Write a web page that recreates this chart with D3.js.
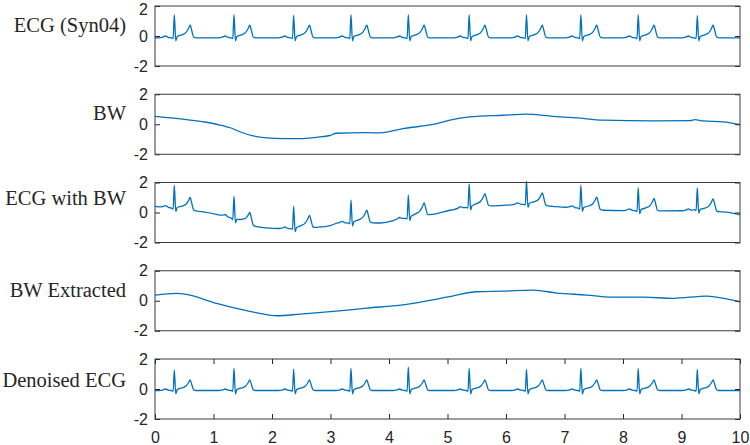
<!DOCTYPE html>
<html>
<head>
<meta charset="utf-8">
<script src="https://cdn.jsdelivr.net/npm/d3@7"></script>
<style>
  body { margin: 0; background: #fff; }
  svg { display: block; }
  .tick text { font-family: "Liberation Sans", Arial, sans-serif; font-size: 16px; fill: #262626; }
  .tick line { stroke: #262626; }
  .panel-label { font-family: "Liberation Serif", "Times New Roman", serif; font-size: 20.5px; fill: #262626; }
</style>
</head>
<body>
<div id="chart"></div>
<script>
// labels and ticks
const panelLabels = ["ECG (Syn04)", "BW", "ECG with BW", "BW Extracted", "Denoised ECG"];
const xTicks = [0, 1, 2, 3, 4, 5, 6, 7, 8, 9, 10];
const yTicks = [-2, 0, 2];

// R-peak times (s)
const beatTimes = [0.33, 1.35, 2.37, 3.35, 4.33, 5.37, 6.35, 7.28, 8.26, 9.27];
const ecgPeaks = [1.42, 1.42, 1.38, 1.42, 1.42, 1.42, 1.42, 1.42, 1.42, 1.36];
const denoisedPeaks = [1.27, 1.38, 1.33, 1.38, 1.45, 1.38, 1.31, 1.38, 1.38, 1.31];

// one beat, offsets from the R peak (s) and level above baseline; null = R peak
const shapeDt = [-0.26, -0.2, -0.15, -0.1, -0.05, -0.02, 0, 0.025, 0.05, 0.13, 0.2, 0.24, 0.27, 0.3, 0.33, 0.37];
const ecgShape = [0, 0.04, 0.12, 0.02, 0, -0.05, null, -0.2, 0.08, 0.2, 0.36, 0.6, 0.84, 0.45, 0.05, 0];
const denoisedShape = [0, 0.03, 0.1, 0.02, 0, -0.05, null, -0.23, 0.06, 0.17, 0.3, 0.5, 0.7, 0.38, 0.05, 0];
const ecgBase = -0.12;
const denoisedBase = -0.1;

// baseline wander
const bwTime = [0, 0.54, 0.85, 1.05, 1.3, 1.45, 1.68, 1.91, 2.19, 2.48, 2.76, 2.99, 3.1, 3.62, 3.85, 4.24, 4.82, 5.04, 5.38, 5.95, 6.35, 6.8, 7.21, 7.66, 8.51, 9.15, 9.23, 9.37, 9.71, 10];
const bwValue = [0.53, 0.31, 0.15, 0.0, -0.25, -0.5, -0.78, -0.91, -0.96, -0.96, -0.87, -0.75, -0.6, -0.56, -0.58, -0.29, 0.04, 0.27, 0.49, 0.6, 0.67, 0.53, 0.42, 0.27, 0.22, 0.24, 0.31, 0.22, 0.16, -0.02];

// extracted baseline wander
const bwExtTime = [0, 0.37, 0.54, 1.05, 1.45, 1.79, 2.08, 2.48, 3.05, 3.62, 4.24, 4.82, 5.1, 5.5, 5.95, 6.47, 6.87, 7.38, 7.78, 8.35, 8.86, 9.43, 9.6, 10];
const bwExtValue = [0.38, 0.49, 0.42, -0.18, -0.56, -0.84, -1.0, -0.89, -0.71, -0.49, -0.27, 0.11, 0.33, 0.6, 0.64, 0.71, 0.51, 0.38, 0.24, 0.24, 0.16, 0.31, 0.24, -0.07];

// layout
const width = 750, height = 445;
const left = 155, right = 740;
const firstTop = 6, panelStep = 88.25, panelH = 60;
const labelDy = [26, 26, 22.5, 26.5, 27.5];

function beatPoints(shape, peaks, base) {
	let pts = [[0, base]];
	beatTimes.forEach((bt, i) => {
		shapeDt.forEach((dt, j) => {
			let v = shape[j] === null ? peaks[i] : base + shape[j];
			pts.push([bt + dt, v]);
		});
	});
	pts.push([10, base]);
	return pts;
}

function zip(ts, vs) {
	return ts.map((t, i) => [t, vs[i]]);
}

// piecewise-linear lookup in a sorted point list
function valueAt(pts, t) {
	let i = d3.bisector((d) => d[0]).left(pts, t);
	if (i <= 0) return pts[0][1];
	if (i >= pts.length) return pts[pts.length - 1][1];
	let a = pts[i - 1], b = pts[i];
	if (b[0] === a[0]) return b[1];
	return a[1] + ((b[1] - a[1]) * (t - a[0])) / (b[0] - a[0]);
}

let ecgPts = beatPoints(ecgShape, ecgPeaks, ecgBase);
let bwPts = zip(bwTime, bwValue);
let times = Array.from(new Set(ecgPts.map((d) => d[0]).concat(bwTime))).sort((a, b) => a - b);
let ecgBwPts = times.map((t) => [t, valueAt(ecgPts, t) + valueAt(bwPts, t)]);

const panels = [
	{ label: panelLabels[0], data: ecgPts },
	{ label: panelLabels[1], data: bwPts },
	{ label: panelLabels[2], data: ecgBwPts },
	{ label: panelLabels[3], data: zip(bwExtTime, bwExtValue) },
	{ label: panelLabels[4], data: beatPoints(denoisedShape, denoisedPeaks, denoisedBase) },
];

let svg = d3.select("#chart").append("svg").attr("width", width).attr("height", height);

let x = d3.scaleLinear().domain([0, 10]).range([left, right]);
let fmt = (d) => String(d);

panels.forEach((p, i) => {
	let top = firstTop + i * panelStep;
	let y = d3.scaleLinear().domain([-2, 2]).range([top + panelH, top]);
	let g = svg.append("g");

	let line = d3
		.line()
		.x((d) => x(d[0]))
		.y((d) => y(d[1]))
		.curve(d3.curveMonotoneX);

	g.append("path")
		.datum(p.data)
		.attr("d", line)
		.attr("fill", "none")
		.attr("stroke", "#0072BD")
		.attr("stroke-width", 1.3)
		.attr("stroke-linejoin", "round");

	let yAxis = g
		.append("g")
		.attr("transform", `translate(${left},0)`)
		.call(d3.axisLeft(y).tickValues(yTicks).tickSize(-5).tickPadding(7).tickFormat(fmt))
		.call((a) => a.select(".domain").remove());

	// top label of the first panel sits at the page edge; nudge it down a bit
	if (i === 0) {
		yAxis
			.selectAll(".tick text")
			.filter((d) => d === 2)
			.attr("dy", "0.55em");
	}

	g.append("g")
		.attr("transform", `translate(${right},0)`)
		.call(d3.axisRight(y).tickValues(yTicks).tickSize(-5).tickFormat(""))
		.call((a) => a.select(".domain").remove());

	if (i === panels.length - 1) {
		g.append("g")
			.attr("transform", `translate(0,${top + panelH})`)
			.call(d3.axisBottom(x).tickValues(xTicks).tickSize(-5).tickPadding(13).tickFormat(fmt))
			.call((a) => a.select(".domain").remove());
		g.append("g")
			.attr("transform", `translate(0,${top})`)
			.call(d3.axisTop(x).tickValues(xTicks).tickSize(-5).tickFormat(""))
			.call((a) => a.select(".domain").remove());
	}

	g.append("rect")
		.attr("x", left)
		.attr("y", top)
		.attr("width", right - left)
		.attr("height", panelH)
		.attr("fill", "none")
		.attr("stroke", "#3a3a3a")
		.attr("stroke-width", 1);

	g.append("text")
		.attr("class", "panel-label")
		.attr("x", 126)
		.attr("y", top + labelDy[i])
		.attr("text-anchor", "end")
		.text(p.label);
});
</script>
</body>
</html>
